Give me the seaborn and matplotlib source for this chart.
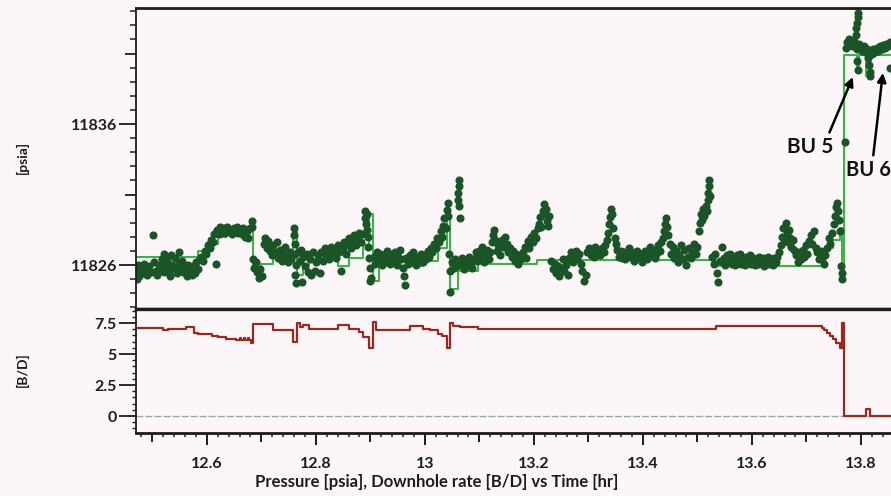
import matplotlib
matplotlib.use("Agg")
import matplotlib.pyplot as plt
from matplotlib.ticker import FixedLocator, MultipleLocator, FixedFormatter
import pandas as pd
import seaborn as sns

# ---------------------------------------------------------------
# Gauge pressure samples, (time [hr], pressure [psia]) per period
# ---------------------------------------------------------------
flow_a = [
    (12.471, 11825.5), (12.472, 11825.0), (12.473, 11826.0), (12.476, 11825.2), (12.479, 11825.8),
    (12.482, 11825.4), (12.485, 11826.1), (12.488, 11825.6), (12.491, 11825.3), (12.494, 11825.9),
    (12.497, 11825.5), (12.501, 11828.1), (12.503, 11826.2), (12.506, 11825.6), (12.509, 11825.3),
    (12.512, 11826.0), (12.515, 11825.7), (12.518, 11826.4), (12.521, 11825.5), (12.522, 11826.8),
    (12.524, 11825.9), (12.527, 11826.3), (12.530, 11825.6), (12.533, 11825.2), (12.535, 11826.7),
    (12.536, 11826.0), (12.539, 11825.8), (12.542, 11826.5), (12.545, 11825.4), (12.548, 11826.1),
    (12.549, 11826.9), (12.551, 11825.7), (12.554, 11826.3), (12.557, 11825.5), (12.560, 11825.9),
    (12.563, 11825.2), (12.566, 11826.0), (12.569, 11825.6), (12.572, 11825.3), (12.575, 11825.9),
    (12.578, 11825.4), (12.581, 11826.2), (12.584, 11825.7), (12.587, 11826.4),
    (12.590, 11826.6), (12.593, 11826.3), (12.596, 11827.0), (12.599, 11826.8), (12.602, 11827.4),
    (12.605, 11827.2), (12.608, 11827.8), (12.611, 11827.6), (12.614, 11828.2), (12.617, 11826.1),
    (12.619, 11828.5), (12.622, 11828.2), (12.625, 11828.7), (12.628, 11828.4), (12.631, 11828.6),
    (12.634, 11828.3), (12.637, 11828.7), (12.640, 11828.4), (12.643, 11828.5), (12.646, 11828.2),
    (12.649, 11828.6), (12.652, 11828.4), (12.655, 11828.7), (12.658, 11828.3), (12.661, 11828.5),
    (12.664, 11828.2), (12.667, 11828.6), (12.670, 11828.0), (12.673, 11828.4), (12.676, 11827.9),
    (12.679, 11828.6), (12.682, 11829.1), (12.683, 11828.7),
]

flow_b = [
    (12.685, 11826.4), (12.687, 11825.8), (12.690, 11826.2), (12.692, 11825.5), (12.695, 11825.1),
    (12.698, 11825.7), (12.701, 11825.2), (12.704, 11827.5), (12.707, 11827.9), (12.710, 11827.2),
    (12.713, 11827.7), (12.716, 11827.0), (12.719, 11826.7), (12.722, 11827.4), (12.725, 11826.9),
    (12.728, 11827.6), (12.731, 11826.5), (12.734, 11827.1), (12.737, 11826.3), (12.740, 11826.8),
    (12.743, 11827.3), (12.746, 11826.6), (12.749, 11826.2), (12.752, 11826.9), (12.755, 11826.4),
    (12.759, 11828.6), (12.760, 11828.1), (12.761, 11827.5), (12.762, 11826.8), (12.763, 11826.0),
    (12.762, 11825.3), (12.764, 11824.7),
    (12.767, 11826.9), (12.770, 11826.3), (12.773, 11827.1), (12.775, 11824.8), (12.777, 11826.6),
    (12.780, 11825.9), (12.783, 11826.8), (12.786, 11825.5), (12.789, 11826.4), (12.792, 11825.3),
    (12.795, 11826.9), (12.798, 11825.6), (12.801, 11826.2), (12.804, 11826.7), (12.807, 11825.4),
    (12.810, 11826.9), (12.813, 11826.3), (12.816, 11827.2), (12.819, 11826.6), (12.822, 11827.0),
    (12.825, 11826.4), (12.828, 11827.3), (12.831, 11826.8), (12.834, 11827.1), (12.837, 11826.5),
    (12.840, 11827.4), (12.843, 11826.9), (12.846, 11825.6), (12.849, 11827.2), (12.852, 11827.6),
    (12.855, 11826.8), (12.858, 11827.5), (12.861, 11827.9), (12.864, 11827.2), (12.867, 11827.7),
    (12.870, 11828.1), (12.873, 11827.4), (12.876, 11828.0), (12.879, 11828.3), (12.882, 11827.6),
    (12.885, 11828.2),
    (12.890, 11829.8), (12.891, 11829.3), (12.892, 11828.9), (12.893, 11829.6), (12.894, 11828.5),
    (12.895, 11828.0), (12.896, 11827.3), (12.898, 11826.5), (12.900, 11825.8), (12.902, 11825.1),
    (12.899, 11824.9),
]

flow_c = [
    (12.906, 11826.6), (12.909, 11826.1), (12.912, 11826.9), (12.915, 11826.4), (12.918, 11826.8),
    (12.921, 11826.0), (12.924, 11826.7), (12.927, 11826.2), (12.930, 11827.0), (12.933, 11826.5),
    (12.936, 11826.1), (12.939, 11826.8), (12.942, 11826.3), (12.945, 11826.9), (12.948, 11826.0),
    (12.951, 11826.6), (12.954, 11827.1), (12.957, 11826.4), (12.960, 11825.8), (12.963, 11824.6),
    (12.962, 11825.2), (12.966, 11826.5), (12.969, 11826.1), (12.972, 11826.7), (12.975, 11826.2),
    (12.978, 11826.9), (12.981, 11826.4), (12.984, 11826.0), (12.987, 11826.6), (12.990, 11826.3),
    (12.993, 11826.8), (12.996, 11826.2), (12.999, 11826.7), (13.002, 11826.4), (13.005, 11827.0),
    (13.008, 11826.6), (13.011, 11827.2), (13.014, 11826.9), (13.017, 11827.5),
    (13.020, 11827.2), (13.023, 11827.9), (13.026, 11827.6), (13.029, 11828.4), (13.031, 11828.0),
    (13.034, 11828.8), (13.036, 11829.3), (13.038, 11828.6), (13.040, 11829.9), (13.042, 11830.4),
    (13.043, 11829.5),
    (13.060, 11830.6), (13.061, 11831.1), (13.062, 11831.6), (13.063, 11832.0), (13.062, 11830.2),
    (13.064, 11829.3),
    (13.045, 11826.8), (13.046, 11825.6), (13.047, 11824.1),
    (13.050, 11826.2), (13.053, 11825.8), (13.056, 11826.4), (13.059, 11825.9), (13.066, 11826.1),
    (13.069, 11826.5), (13.072, 11825.7), (13.075, 11826.3), (13.078, 11826.0), (13.081, 11826.6),
    (13.084, 11826.2), (13.087, 11825.8), (13.090, 11826.4), (13.093, 11826.9), (13.096, 11826.3),
]

flow_d = [
    (13.099, 11827.0), (13.102, 11826.5), (13.105, 11827.3), (13.108, 11826.2), (13.111, 11826.8),
    (13.114, 11827.1), (13.117, 11826.4), (13.120, 11826.9), (13.123, 11827.6), (13.125, 11828.1),
    (13.127, 11828.5), (13.129, 11827.8), (13.132, 11827.0), (13.135, 11827.4), (13.138, 11826.7),
    (13.141, 11827.8), (13.144, 11827.3), (13.147, 11828.0), (13.150, 11827.5), (13.153, 11826.9),
    (13.156, 11827.2), (13.159, 11826.6), (13.162, 11827.0), (13.165, 11826.3), (13.168, 11826.8),
    (13.171, 11826.1), (13.174, 11826.7), (13.177, 11826.4), (13.180, 11826.9), (13.183, 11827.3),
    (13.186, 11826.5), (13.189, 11827.7), (13.192, 11827.2), (13.195, 11828.0), (13.198, 11827.6),
    (13.201, 11828.3), (13.204, 11827.9), (13.207, 11828.6),
    (13.210, 11828.9), (13.212, 11829.4), (13.214, 11828.7), (13.216, 11829.8), (13.218, 11830.3),
    (13.220, 11829.6), (13.222, 11830.0), (13.224, 11829.1), (13.226, 11828.8), (13.228, 11829.5),
    (13.232, 11826.3), (13.235, 11825.7), (13.238, 11826.1), (13.241, 11825.4), (13.244, 11825.9),
    (13.247, 11825.2), (13.250, 11825.8), (13.253, 11826.4), (13.256, 11825.6), (13.259, 11826.0),
    (13.262, 11825.3), (13.265, 11826.5), (13.268, 11826.9), (13.271, 11826.2), (13.274, 11826.7),
    (13.277, 11827.0), (13.280, 11826.4), (13.283, 11826.8), (13.286, 11826.1), (13.289, 11825.6),
    (13.292, 11824.9), (13.295, 11825.3), (13.298, 11826.9), (13.301, 11827.2), (13.304, 11826.7),
    (13.307, 11827.0), (13.310, 11826.6), (13.313, 11827.3), (13.316, 11826.8), (13.319, 11827.1),
    (13.322, 11826.7), (13.325, 11827.2), (13.328, 11826.9), (13.331, 11827.4),
    (13.334, 11827.8), (13.336, 11828.3), (13.338, 11828.9), (13.340, 11829.4), (13.342, 11830.0),
    (13.344, 11829.6), (13.346, 11828.6), (13.348, 11827.9), (13.350, 11827.5),
]

flow_e = [
    (13.353, 11827.1), (13.356, 11826.6), (13.359, 11827.0), (13.362, 11826.5), (13.365, 11826.9),
    (13.368, 11826.4), (13.371, 11826.8), (13.374, 11827.2), (13.377, 11826.6), (13.380, 11826.9),
    (13.383, 11826.3), (13.386, 11826.7), (13.389, 11827.0), (13.392, 11826.5), (13.395, 11826.8),
    (13.398, 11826.2), (13.401, 11826.6), (13.404, 11827.0), (13.407, 11826.4), (13.410, 11826.9),
    (13.413, 11827.3), (13.416, 11826.7), (13.419, 11827.1), (13.422, 11826.5), (13.425, 11826.8),
    (13.428, 11827.4), (13.431, 11827.0), (13.434, 11827.6),
    (13.437, 11827.9), (13.439, 11828.4), (13.441, 11828.9), (13.443, 11829.3), (13.445, 11828.7),
    (13.447, 11828.1), (13.449, 11827.5),
    (13.452, 11826.8), (13.455, 11827.3), (13.458, 11826.5), (13.461, 11827.0), (13.464, 11826.2),
    (13.467, 11826.7), (13.470, 11827.4), (13.473, 11826.4), (13.476, 11827.1), (13.479, 11826.0),
    (13.482, 11826.6), (13.485, 11827.2), (13.488, 11826.5), (13.491, 11826.9), (13.494, 11827.5),
    (13.497, 11826.8), (13.500, 11827.3),
    (13.503, 11828.4), (13.505, 11829.0), (13.507, 11829.6), (13.509, 11829.2), (13.511, 11830.0),
    (13.513, 11829.5), (13.515, 11830.2), (13.517, 11829.8), (13.519, 11830.6), (13.520, 11831.1),
    (13.521, 11831.6), (13.522, 11832.0), (13.523, 11830.9),
    (13.527, 11826.6), (13.530, 11826.1), (13.533, 11826.8), (13.536, 11825.4), (13.538, 11824.8),
    (13.541, 11826.3), (13.545, 11827.3), (13.548, 11826.5), (13.551, 11826.0), (13.554, 11826.7),
    (13.557, 11826.2), (13.560, 11826.8), (13.563, 11826.1), (13.566, 11826.6), (13.569, 11826.0),
    (13.572, 11826.7), (13.575, 11826.3), (13.578, 11826.8), (13.581, 11826.1), (13.584, 11826.5),
    (13.587, 11826.0), (13.590, 11826.6), (13.593, 11826.2), (13.596, 11826.7), (13.599, 11826.1),
]

flow_f = [
    (13.602, 11826.5), (13.605, 11826.0), (13.608, 11826.4), (13.611, 11826.1), (13.614, 11826.6),
    (13.617, 11826.2), (13.620, 11826.5), (13.623, 11825.9), (13.626, 11826.3), (13.629, 11826.6),
    (13.632, 11826.1), (13.635, 11826.4), (13.638, 11826.0), (13.641, 11826.5), (13.644, 11826.2),
    (13.647, 11826.6), (13.650, 11826.9),
    (13.653, 11827.4), (13.656, 11828.0), (13.658, 11828.6), (13.660, 11827.7), (13.662, 11829.0),
    (13.664, 11828.3), (13.666, 11827.6), (13.668, 11828.5), (13.670, 11827.9), (13.672, 11827.3),
    (13.675, 11827.8), (13.678, 11827.1),
    (13.681, 11826.7), (13.684, 11826.2), (13.687, 11826.9), (13.690, 11826.4), (13.693, 11827.1),
    (13.696, 11826.6), (13.699, 11827.4), (13.702, 11826.8), (13.705, 11827.7), (13.708, 11828.1),
    (13.711, 11827.5), (13.714, 11828.4), (13.717, 11827.2), (13.720, 11826.9), (13.723, 11826.4),
    (13.726, 11827.0), (13.729, 11826.5), (13.732, 11826.1), (13.735, 11826.7),
    (13.738, 11827.2), (13.741, 11827.9), (13.744, 11827.5), (13.747, 11828.3), (13.750, 11828.9),
    (13.752, 11829.5), (13.754, 11830.1), (13.756, 11830.4), (13.758, 11829.8), (13.760, 11829.2),
    (13.761, 11828.4), (13.763, 11825.9), (13.765, 11825.4), (13.766, 11825.0),
]

shut_in = [
    (13.770, 11834.7),
    (13.772, 11841.4), (13.775, 11841.8), (13.778, 11842.0), (13.781, 11841.7), (13.784, 11841.5),
    (13.787, 11841.9), (13.790, 11841.6), (13.791, 11842.3), (13.792, 11842.8), (13.793, 11843.2),
    (13.794, 11843.6), (13.795, 11843.9), (13.793, 11840.5), (13.794, 11839.8), (13.793, 11841.3),
    (13.796, 11841.7), (13.799, 11841.4), (13.802, 11841.2), (13.805, 11841.5), (13.808, 11841.1),
    (13.811, 11841.3), (13.814, 11841.0), (13.814, 11840.7), (13.815, 11840.2), (13.816, 11839.7),
    (13.816, 11839.4), (13.817, 11841.2), (13.820, 11841.0), (13.823, 11841.3), (13.826, 11841.1),
    (13.829, 11841.4), (13.832, 11841.2), (13.835, 11841.5), (13.838, 11841.3), (13.841, 11841.6),
    (13.844, 11841.4), (13.847, 11841.7), (13.850, 11841.5), (13.853, 11841.8), (13.854, 11840.0),
    (13.856, 11841.6), (13.860, 11841.8), (13.865, 11841.7),
]

# Simulated pressure response (step changes)
model_time = [12.470, 12.583, 12.610, 12.620, 12.635, 12.653, 12.681, 12.684, 12.700, 12.721,
              12.758, 12.766, 12.776, 12.788, 12.840, 12.861, 12.886, 12.898, 12.905, 12.915,
              12.972, 12.997, 13.024, 13.040, 13.046, 13.060, 13.098, 13.205, 13.535, 13.728,
              13.738, 13.749, 13.761, 13.765, 13.769, 13.793, 13.796, 13.810, 13.817, 13.870]
model_psia = [11826.6, 11827.0, 11827.5, 11828.0, 11828.3, 11828.5, 11829.0, 11825.6, 11826.1, 11826.8,
              11828.4, 11825.3, 11826.0, 11826.4, 11825.9, 11826.5, 11827.4, 11829.6, 11824.9, 11826.2,
              11825.9, 11826.3, 11827.2, 11829.8, 11824.3, 11825.6, 11826.1, 11826.35, 11825.9, 11826.5,
              11827.2, 11827.8, 11828.6, 11825.1, 11840.9, 11840.0, 11840.9, 11839.4, 11840.9, 11840.9]

# Downhole rate history [B/D]
rate_time = [12.470, 12.519, 12.528, 12.561, 12.577, 12.583, 12.610, 12.620, 12.635, 12.653,
             12.660, 12.662, 12.668, 12.670, 12.675, 12.677, 12.681, 12.684, 12.721, 12.758,
             12.766, 12.770, 12.776, 12.788, 12.840, 12.861, 12.880, 12.886, 12.898, 12.905,
             12.910, 12.972, 12.997, 13.009, 13.024, 13.032, 13.040, 13.046, 13.052, 13.064,
             13.083, 13.098, 13.535, 13.728, 13.733, 13.738, 13.743, 13.749, 13.755, 13.761,
             13.765, 13.769, 13.810, 13.817, 13.870]
rate_bpd = [7.07, 6.92, 7.02, 7.15, 6.72, 6.65, 6.45, 6.35, 6.20, 6.10,
            6.30, 6.10, 6.30, 6.10, 6.30, 6.10, 5.90, 7.42, 6.90, 6.00,
            7.50, 7.20, 7.30, 7.00, 7.35, 7.00, 6.75, 6.40, 5.45, 7.60,
            6.97, 7.26, 7.05, 6.90, 6.60, 6.45, 5.45, 7.50, 7.25, 7.15,
            7.20, 7.00, 7.28, 7.10, 6.90, 6.70, 6.45, 6.20, 5.90, 5.45,
            7.47, 0.00, 0.54, 0.00, 0.00]

x_major = [12.5, 12.6, 12.7, 12.8, 12.9, 13.0, 13.1, 13.2, 13.3, 13.4, 13.5, 13.6, 13.7, 13.8]
x_labels = ["", "12.6", "", "12.8", "", "13", "", "13.2", "", "13.4", "", "13.6", "", "13.8"]
p_ticks = [11826, 11831, 11836, 11841]
p_labels = ["11826", "", "11836", ""]
r_ticks = [0, 2.5, 5, 7.5]
r_labels = ["0", "2.5", "5", "7.5"]

# ---------------------------------------------------------------
bg = "#fcf6f8"
ink = "#1c1c1c"
sns.set_style("white", {"axes.facecolor": bg, "figure.facecolor": bg})
plt.rcParams["font.family"] = ["Lato", "DejaVu Sans"]
plt.rcParams["font.weight"] = "bold"

pts = pd.DataFrame(flow_a + flow_b + flow_c + flow_d + flow_e + flow_f + shut_in,
                   columns=["time", "psia"])
model = pd.DataFrame({"time": model_time, "psia": model_psia})
rate = pd.DataFrame({"time": rate_time, "bpd": rate_bpd})

W, H = 891, 496
fig = plt.figure(figsize=(W / 100, H / 100), dpi=100)
left, axw = 136 / W, 763 / W
ax_p = fig.add_axes([left, 1 - 309 / H, axw, 301 / H])
ax_r = fig.add_axes([left, 1 - 433 / H, axw, 124 / H], sharex=ax_p)

# pressure panel: model line underneath the gauge points
sns.lineplot(data=model, x="time", y="psia", ax=ax_p, color="#3fb04a", lw=1.5,
             drawstyle="steps-post", estimator=None, sort=False, zorder=1, legend=False)
sns.scatterplot(data=pts, x="time", y="psia", ax=ax_p, color="#1b5427",
                s=34, linewidth=0, zorder=2, legend=False)

# rate panel
ax_r.axhline(0, color="#93aaa8", lw=1.0, ls=(0, (5, 1.5)), zorder=1)
sns.lineplot(data=rate, x="time", y="bpd", ax=ax_r, color="#962a1f", lw=1.6,
             drawstyle="steps-post", estimator=None, sort=False, zorder=3, legend=False)

ax_p.set_xlim(12.47, 13.87)
ax_p.set_ylim(11822.88, 11844.23)
ax_r.set_ylim(-1.37, 8.63)

for ax in (ax_p, ax_r):
    ax.set_xlabel("")
    ax.set_ylabel("")
    ax.spines["right"].set_visible(False)
    ax.spines["left"].set_linewidth(1.3)
    ax.spines["left"].set_color(ink)

ax_p.spines["top"].set_linewidth(2.0)
ax_p.spines["top"].set_color(ink)
ax_p.spines["bottom"].set_linewidth(2.4)
ax_p.spines["bottom"].set_color(ink)
# thick divider between the two panels
ax_r.spines["top"].set_visible(True)
ax_r.spines["top"].set_linewidth(2.4)
ax_r.spines["top"].set_color(ink)
ax_r.spines["bottom"].set_linewidth(2.0)
ax_r.spines["bottom"].set_color(ink)

# pressure ticks
ax_p.yaxis.set_major_locator(FixedLocator(p_ticks))
ax_p.yaxis.set_major_formatter(FixedFormatter(p_labels))
ax_p.yaxis.set_minor_locator(MultipleLocator(1))
ax_p.tick_params(axis="y", which="major", left=True, direction="out", length=12.5, width=1.3,
                 color=ink, labelsize=11.5, labelcolor=ink, pad=1)
ax_p.tick_params(axis="y", which="minor", left=True, direction="out", length=4, width=1.1, color=ink)
ax_p.tick_params(axis="x", which="both", bottom=False, labelbottom=False)
for tk, lab in zip(ax_p.yaxis.get_major_ticks(), p_labels):
    if not lab:
        tk.tick1line.set_markersize(8)

# rate ticks
ax_r.yaxis.set_major_locator(FixedLocator(r_ticks))
ax_r.yaxis.set_major_formatter(FixedFormatter(r_labels))
ax_r.yaxis.set_minor_locator(MultipleLocator(0.5))
ax_r.tick_params(axis="y", which="major", left=True, direction="out", length=12.5, width=1.3,
                 color=ink, labelsize=11.5, labelcolor=ink, pad=1.5)
ax_r.tick_params(axis="y", which="minor", left=True, direction="out", length=3, width=1.0, color=ink)

# time ticks
ax_r.xaxis.set_major_locator(FixedLocator(x_major))
ax_r.xaxis.set_major_formatter(FixedFormatter(x_labels))
ax_r.xaxis.set_minor_locator(MultipleLocator(0.02))
ax_r.tick_params(axis="x", which="major", bottom=True, direction="out", length=8.5, width=1.4,
                 color=ink, labelsize=11.5, labelcolor=ink, pad=9)
ax_r.tick_params(axis="x", which="minor", bottom=True, direction="out", length=3, width=1.1, color=ink)
for tk, lab in zip(ax_r.xaxis.get_major_ticks(), x_labels):
    if not lab:
        tk.tick1line.set_markersize(6.5)

# axis captions
fig.text(22 / W, 1 - 158 / H, "[psia]", rotation=90, ha="center", va="center",
         fontsize=10, color=ink, fontweight="bold")
fig.text(22 / W, 1 - 370 / H, "[B/D]", rotation=90, ha="center", va="center",
         fontsize=10, color=ink, fontweight="bold")
fig.text(437 / W, 1 - 482 / H, "Pressure [psia], Downhole rate [B/D] vs Time [hr]",
         ha="center", va="center", fontsize=12, color=ink, fontweight="bold")

# build-up markers
arrow = dict(arrowstyle="-|>", color="black", lw=1.8, mutation_scale=13, shrinkA=1, shrinkB=0)
ax_p.annotate("BU 5", xy=(13.7853, 11839.33), xytext=(13.7073, 11834.37),
              ha="center", va="center", fontsize=15, fontweight="bold", color="#111111",
              arrowprops=dict(arrow, relpos=(0.88, 1.05)), zorder=5)
ax_p.annotate("BU 6", xy=(13.8404, 11839.62), xytext=(13.7725, 11832.74),
              ha="left", va="center", fontsize=14.5, fontweight="bold", color="#111111",
              arrowprops=dict(arrow, relpos=(0.6, 1.05)), zorder=5)

fig.savefig("out.png", dpi=100, facecolor=bg)
